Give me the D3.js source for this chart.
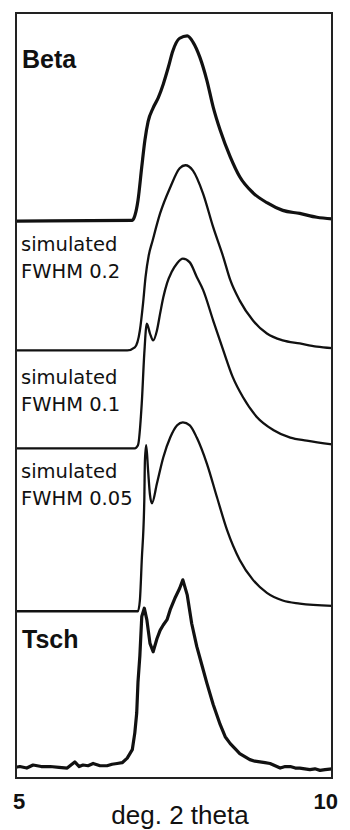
<!DOCTYPE html>
<html lang="en">
<head>
  <meta charset="utf-8">
  <title>Beta / Tsch diffraction</title>
  <script src="https://d3js.org/d3.v7.min.js"></script>
  <style>
    body { margin: 0; background: #fff; }
  </style>
</head>
<body>
  <div class="chart"></div>

  <script type="text/javascript">
    // 2 theta range and the tick labels
    var xDomain = [5, 10];
    var xTicks = [5, 10];

    // vertical offsets of the stacked patterns (same units as intensity)
    var offsets = [72.8, 55.9, 43.1, 21.8, 0];

    // Beta, measured
    var betaX = [5.00, 6.84, 6.88, 6.93, 6.99, 7.04, 7.09, 7.17, 7.25, 7.33, 7.41, 7.48, 7.59, 7.71, 7.80, 7.91, 8.02, 8.12, 8.23, 8.39, 8.54, 8.75, 8.97, 9.22, 9.49, 9.76, 10.00];
    var betaY = [0, 0.1, 0.7, 2.7, 7.1, 10.6, 13.0, 14.8, 16.1, 17.9, 20.1, 22.2, 23.9, 24.2, 23.4, 21.4, 18.4, 14.9, 11.9, 8.4, 5.8, 3.7, 2.4, 1.4, 1.0, 0.5, 0.3];

    // simulated FWHM 0.2
    var sim02X = [5.00, 6.76, 6.88, 6.96, 7.01, 7.05, 7.10, 7.16, 7.28, 7.44, 7.59, 7.68, 7.80, 7.96, 8.12, 8.28, 8.39, 8.54, 8.75, 8.97, 9.22, 9.49, 9.76, 10.00];
    var sim02Y = [0, 0, 0.4, 2.6, 6.1, 9.6, 12.4, 14.3, 17.9, 21.3, 23.8, 24.2, 23.5, 20.5, 16.1, 12.2, 9.2, 6.5, 3.9, 2.2, 1.3, 0.9, 0.5, 0.3];

    // simulated FWHM 0.1
    var sim01X = [5.00, 6.88, 6.93, 6.99, 7.03, 7.07, 7.12, 7.17, 7.23, 7.28, 7.33, 7.39, 7.46, 7.55, 7.64, 7.75, 7.86, 7.96, 8.12, 8.28, 8.43, 8.59, 8.81, 9.07, 9.34, 9.60, 10.00];
    var sim01Y = [0, 0, 0.4, 5.9, 12.4, 16.3, 15.0, 14.1, 15.4, 17.6, 19.7, 21.6, 23.0, 24.2, 24.8, 24.3, 22.4, 20.7, 16.7, 12.8, 9.3, 6.7, 4.1, 2.4, 1.4, 1.0, 0.5];

    // simulated FWHM 0.05
    var sim005X = [5.00, 6.93, 6.96, 6.99, 7.03, 7.04, 7.06, 7.09, 7.12, 7.15, 7.23, 7.33, 7.44, 7.55, 7.64, 7.75, 7.86, 8.02, 8.18, 8.34, 8.54, 8.75, 8.97, 9.22, 9.49, 10.00];
    var sim005Y = [0, 0, 1.4, 6.7, 14.5, 19.7, 21.7, 18.4, 15.2, 14.1, 16.7, 20.1, 22.7, 24.3, 24.7, 24.3, 22.7, 19.3, 14.9, 10.6, 6.7, 4.1, 2.4, 1.4, 1.0, 0.7];

    // Tsch, measured (noisy)
    var tschX = [5.00, 5.06, 5.17, 5.27, 5.40, 5.54, 5.68, 5.81, 5.93, 6.00, 6.06, 6.14, 6.22, 6.33, 6.44, 6.52, 6.60, 6.68, 6.76, 6.84, 6.88, 6.91, 6.93, 6.96, 6.99, 7.03, 7.07, 7.12, 7.17, 7.23, 7.28, 7.33, 7.39, 7.44, 7.52, 7.59, 7.64, 7.71, 7.78, 7.86, 7.94, 8.02, 8.12, 8.23, 8.31, 8.39, 8.47, 8.54, 8.62, 8.70, 8.78, 8.86, 8.94, 9.02, 9.10, 9.18, 9.26, 9.34, 9.42, 9.49, 9.57, 9.65, 9.73, 9.81, 9.89, 10.00];
    var tschY = [1.4, 1.5, 1.3, 1.7, 1.5, 1.5, 1.4, 1.3, 2.1, 1.5, 1.7, 1.6, 1.9, 1.6, 1.6, 1.8, 1.9, 2.0, 2.6, 3.7, 5.9, 8.5, 12.5, 16.0, 21.1, 22.2, 20.7, 17.6, 16.5, 18.2, 19.3, 20.0, 20.7, 22.0, 23.6, 24.8, 25.9, 23.9, 20.2, 17.2, 14.8, 12.4, 9.6, 7.0, 5.4, 4.5, 3.8, 3.2, 2.8, 2.4, 2.2, 2.1, 2.0, 1.9, 1.6, 1.3, 1.5, 1.5, 1.3, 1.3, 1.2, 1.1, 1.2, 1.0, 1.1, 1.2];

    var seriesX = [betaX, sim02X, sim01X, sim005X, tschX];
    var seriesY = [betaY, sim02Y, sim01Y, sim005Y, tschY];
    var widths = [3.2, 2.3, 2.3, 2.3, 3.2];

    var W = 350, H = 830;
    var m = {top: 13, right: 18, bottom: 52, left: 16};

    var svg = d3.select(".chart").append("svg")
      .attr("width", W)
      .attr("height", H);

    var x = d3.scaleLinear().domain(xDomain).range([m.left, W - m.right]);
    var y = d3.scaleLinear().domain([0, 100]).range([H - m.bottom, m.top]);

    seriesX.forEach(function(xs, k){
      var pts = xs.map(function(v, i){ return [v, seriesY[k][i] + offsets[k]]; });
      var line = d3.line()
        .x(function(d){ return x(d[0]); })
        .y(function(d){ return y(d[1]); })
        .curve(k == 4 ? d3.curveLinear : d3.curveMonotoneX);
      svg.append("path")
        .datum(pts)
        .attr("d", line)
        .style("fill", "none")
        .style("stroke", "#111")
        .style("stroke-width", widths[k])
        .style("stroke-linejoin", "round");
    });

    // frame
    svg.append("rect")
      .attr("x", x(xDomain[0]))
      .attr("y", y(100))
      .attr("width", x(xDomain[1]) - x(xDomain[0]))
      .attr("height", y(0) - y(100))
      .style("fill", "none")
      .style("stroke", "#222")
      .style("stroke-width", 2);

    // tick labels
    svg.selectAll(".tick")
      .data(xTicks)
      .enter().append("text")
      .attr("x", function(d){ return x(d); })
      .attr("y", 809)
      .attr("text-anchor", function(d, i){ return i == 0 ? "start" : "end"; })
      .attr("dx", function(d, i){ return i == 0 ? -3 : 6; })
      .style("font-family", "'Liberation Sans', Arial, sans-serif")
      .style("font-weight", "bold")
      .style("font-size", "22px")
      .style("fill", "#111")
      .text(function(d){ return d; });

    svg.append("text")
      .attr("x", 180)
      .attr("y", 824)
      .attr("text-anchor", "middle")
      .style("font-family", "'Liberation Sans', Arial, sans-serif")
      .style("font-size", "26px")
      .style("fill", "#111")
      .text("deg. 2 theta");

    // sample names
    var bigLabels = [["Beta", 68], ["Tsch", 648]];
    bigLabels.forEach(function(l){
      svg.append("text")
        .attr("x", 22)
        .attr("y", l[1])
        .style("font-family", "'Liberation Sans', Arial, sans-serif")
        .style("font-weight", "bold")
        .style("font-size", "25px")
        .style("fill", "#111")
        .text(l[0]);
    });

    var simLabels = ["FWHM 0.2", "FWHM 0.1", "FWHM 0.05"];
    var simTop = [251, 384, 478];
    simLabels.forEach(function(t, i){
      var g = svg.append("text")
        .attr("x", 21)
        .attr("y", simTop[i])
        .style("font-family", "'DejaVu Sans', sans-serif")
        .style("font-size", "19.5px")
        .style("fill", "#111");
      g.append("tspan").attr("x", 21).text("simulated");
      g.append("tspan").attr("x", 21).attr("dy", 27).text(t);
    });
  </script>
</body>
</html>
